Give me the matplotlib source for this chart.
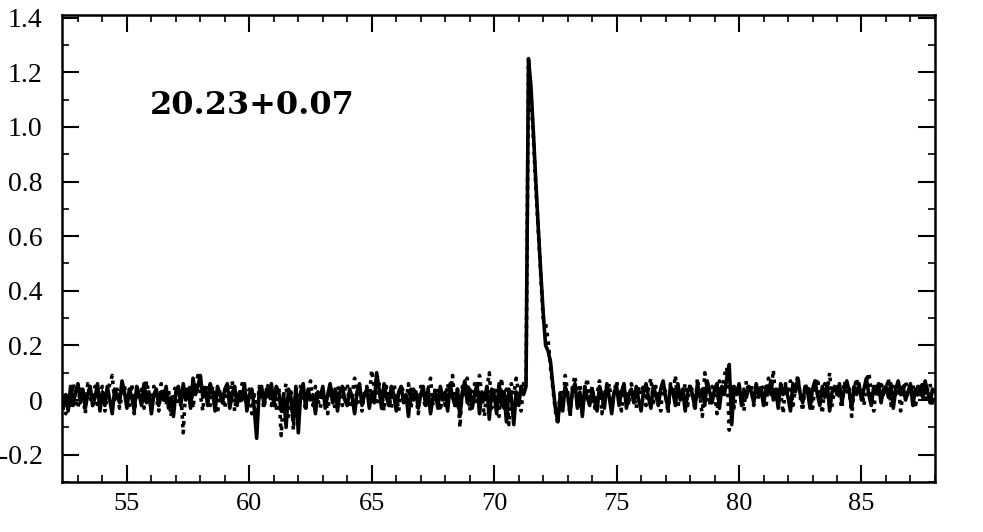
import numpy as np
import matplotlib
matplotlib.use("Agg")
import matplotlib.pyplot as plt
from matplotlib.ticker import MultipleLocator, FuncFormatter

# x grid: 52.4 .. 88.0 step 0.1
x = np.arange(524, 881) / 10.0

# solid series (hundredths)
solid_c = [
    -3, 2, -4, 5, -2, 3,
    6, -1, 4, -3, 2, 5, -2, 1, 6, -4,
    3, -2, 5, 0, -5, 4, 2, -1, 7, 3,
    -3, 4, 1, -4, 5, 2, -2, 6, -1, 3,
    -5, 2, 4, -2, 3, 0, 5, -3, 1, -6,
    3, 5, -2, 6, 0, 4, -3, 8, 2, 5,
    9, 1, 4, -2, 6, 3, -4, 5, 2, -1,
    4, 6, -3, 2, 5, -2, 3, 0, 6, -4,
    2, 4, -3, -14, 3, 5, -2, 4, 1, 6,
    -2, 5, 3, -4, 2, -10, 4, 1, -8, 5,
    -12, 3, 6, -3, 4, 0, 2, -5, 3, 1,
    5, -3, 2, 6, -1, 4, -4, 3, 5, 0,
    -2, 4, 1, -5, 3, 6, -2, 2, 4, -3,
    3, -1, 10, 4, -3, 6, 1, -2, 5, 2,
    -4, 3, 5, -1, 2, -6, 4, 0, 3, -3,
    2, 5, -2, 4, -5, 1, 3, -3, 5, 0,
    3, -4, 6, 1, -2, 4, -6, 3, 7, -1,
    4, -3, 2, 6, -5, 3, 0, 5, -7, 4,
    2, -5, 6, -2, 3, -8, 4, 1, -9, 3,
    -2, 5, 2, 5, 125, 115, 98, 80, 63, 47,
    32, 20, 18, 14, 5, -3, -8, 2, -4, 5,
    2, -5, 4, 6, -3, 3, -6, 5, 1, -2,
    4, 0, -4, 5, 2, -3, 6, 1, -5, 3,
    5, -2, 3, 6, -3, 2, 4, -1, 5, 0,
    -4, 3, 6, 1, -3, 5, 2, -2, 4, 7,
    1, -3, 5, 3, -2, 6, 0, 4, -4, 3,
    5, 2, -3, 6, 1, 4, -2, 7, 3, -1,
    4, 6, -3, 5, 2, 8, 13, -9, 5, 2,
    6, -2, 4, 1, 5, 3, -1, 6, 2, 4,
    -2, 5, 3, 7, 0, 4, -3, 6, 2, 5,
    1, -4, 6, 3, 8, 2, -1, 5, 3, -3,
    4, 7, 2, -2, 5, 1, 6, -4, 3, 5,
    2, 6, -1, 4, 7, 3, -3, 5, 2, 6,
    0, 4, 8, 2, -2, 5, 3, 6, -1, 4,
    5, 1, 6, -3, 4, 7, 2, 5, 0, 3,
    6, -2, 4, 2, 5, 1, 7, 3, -1, 4,
    3,
]

# dashed series (hundredths)
dashed_c = [
    2, -5, 3, -2, 6, 0,
    -3, 4, 2, -5, 6, 1, -2, 5, -3, 3,
    5, -4, 2, 6, 9, -1, 4, -3, 2, 5,
    1, -2, 6, -5, 3, 0, 4, -3, 7, 2,
    -3, 5, 1, -4, 6, 2, -2, 4, -6, 3,
    5, -2, 3, -12, 4, 1, 6, -3, 5, 9,
    2, -4, 6, 3, -2, 5, 1, -5, 4, 2,
    -3, 5, 2, 7, -4, 3, -1, 6, 2, -3,
    4, -5, 2, -7, 5, 1, -3, 4, 6, -2,
    3, -4, 5, -13, 2, 6, -6, 3, -11, 4,
    -5, 6, 2, -4, 3, 7, -2, 5, 0, -3,
    4, 2, -5, 6, 1, -3, 5, 3, -2, 4,
    6, -3, 2, 8, -1, 4, -4, 3, 5, 1,
    11, 4, -2, 6, 3, -4, 5, 1, -3, 6,
    2, -4, 5, 3, -1, 6, -3, 4, 2, -5,
    5, 1, -3, 4, 8, -2, 5, 2, -4, 3,
    -2, 6, 1, 9, -3, 4, -10, 5, 2, 8,
    -4, 3, 6, -2, 9, 1, -6, 4, 10, -3,
    5, 2, -6, 8, -3, 4, -9, 6, 2, 8,
    3, -4, 6, 6, 122, 112, 96, 78, 62, 46,
    30, 28, 22, 12, 4, -4, -9, 4, -2, 9,
    3, -6, 5, 9, -2, 6, -4, 3, 8, -1,
    5, -3, 2, 7, -5, 4, 1, 6, -2, 3,
    7, 1, -4, 5, 3, -2, 6, 2, -3, 5,
    2, 6, -2, 4, 8, -1, 5, 3, -4, 6,
    3, -5, 6, 2, 9, -3, 4, 1, 6, -2,
    6, 3, -4, 8, 2, -6, 10, 4, -2, 5,
    3, -5, 7, 2, 9, 12, -11, 6, -3, 4,
    5, 2, -4, 7, 3, 6, -2, 4, 1, 6,
    3, -3, 8, 2, 11, -1, 5, 3, -5, 6,
    2, 7, -2, 4, 9, 1, -4, 6, 3, 5,
    -3, 5, 8, 2, -5, 6, 3, 10, -2, 4,
    6, 1, -3, 7, 3, 5, -6, 4, 8, 2,
    5, -2, 6, 10, 3, -4, 5, 2, 7, 1,
    3, 8, -2, 5, 1, 6, -4, 3, 7, 2,
    4, 6, -3, 5, 2, 7, 0, 4, 6, -2,
    3,
]

solid = np.array(solid_c) / 100.0
dashed = np.array(dashed_c) / 100.0

x_ticks = [55, 60, 65, 70, 75, 80, 85]
y_ticks = [-0.2, 0, 0.2, 0.4, 0.6, 0.8, 1.0, 1.2, 1.4]
annotation = "20.23+0.07"

plt.rcParams['font.family'] = ['Liberation Serif', 'DejaVu Serif']

fig = plt.figure(figsize=(9.83, 5.32), dpi=100)
ax = fig.add_axes([0.0631, 0.094, 0.888, 0.878])

ax.plot(x, dashed, color='black', lw=2.6, linestyle=(0, (1.0, 1.4)))
ax.plot(x, solid, color='black', lw=2.6)

ax.set_xlim(52.35, 88.0)
ax.set_ylim(-0.3, 1.41)
ax.set_xticks(x_ticks)
ax.set_yticks(y_ticks)
ax.xaxis.set_minor_locator(MultipleLocator(1))
ax.yaxis.set_minor_locator(MultipleLocator(0.1))

def yfmt(v, pos):
    if abs(v) < 1e-9:
        return "0"
    return f"{v:.1f}"
ax.yaxis.set_major_formatter(FuncFormatter(yfmt))

ax.tick_params(which='both', direction='in', top=True, right=True, width=1.5)
ax.tick_params(which='major', length=12)
ax.tick_params(which='minor', length=5, width=1.2)
ax.tick_params(axis='x', pad=8, labelsize=19)
ax.tick_params(axis='y', pad=14, labelsize=20)
for s in ax.spines.values():
    s.set_linewidth(1.8)

ax.text(55.95, 1.08, annotation, fontsize=23, fontweight='bold',
        family=['DejaVu Serif'], va='center', ha='left')

fig.savefig("out.png", dpi=100)
